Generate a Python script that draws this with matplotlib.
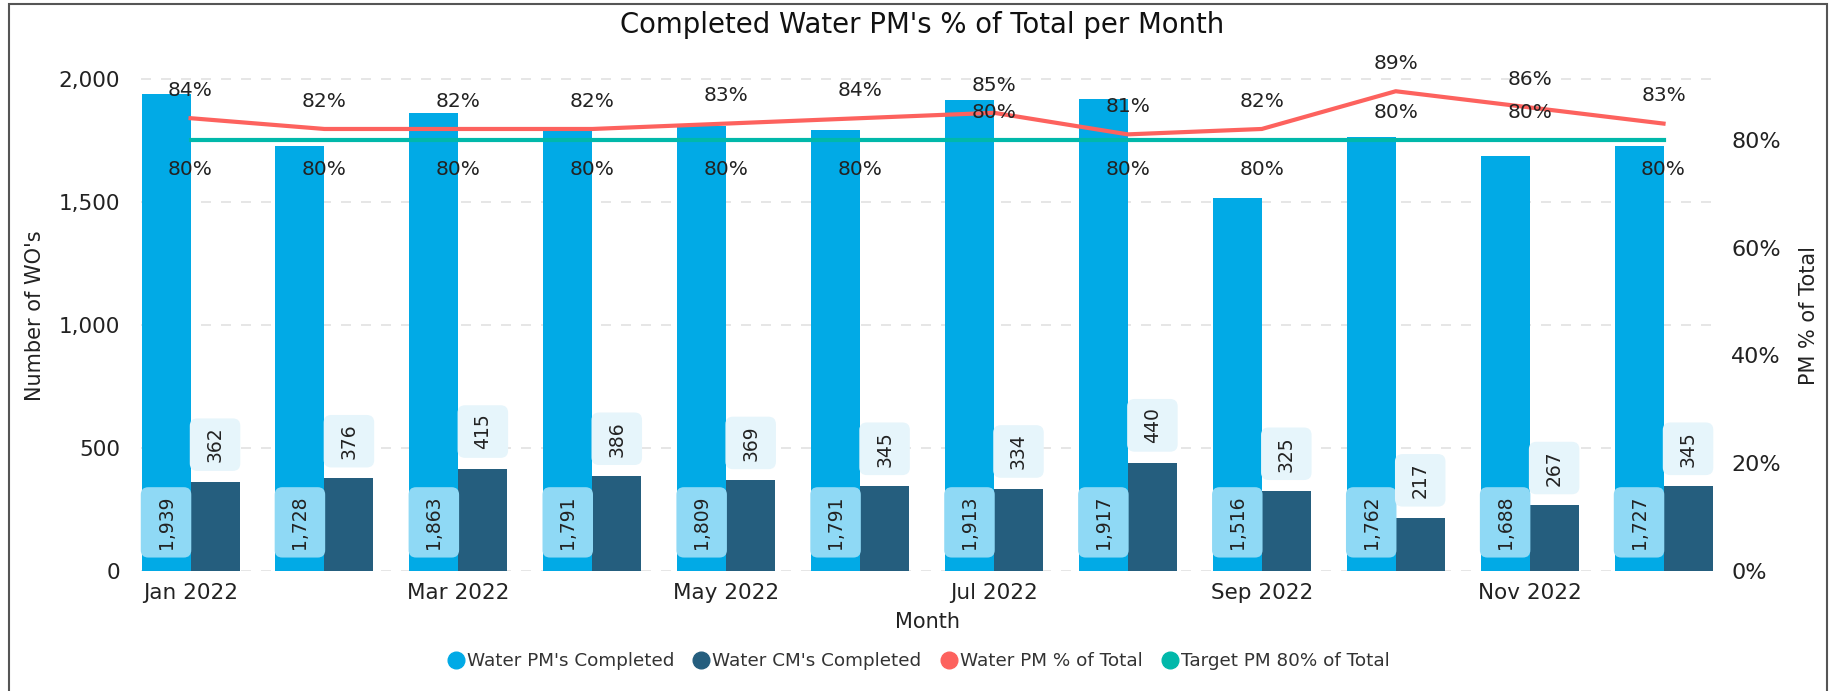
import matplotlib.pyplot as plt
import numpy as np
from matplotlib.lines import Line2D
from matplotlib.patches import Rectangle, BoxStyle
from matplotlib.ticker import FuncFormatter

# -----------------------------
# Data
# -----------------------------
months = ["Jan 2022", "Feb 2022", "Mar 2022", "Apr 2022", "May 2022", "Jun 2022",
          "Jul 2022", "Aug 2022", "Sep 2022", "Oct 2022", "Nov 2022", "Dec 2022"]
pm_completed = [1939, 1728, 1863, 1791, 1809, 1791, 1913, 1917, 1516, 1762, 1688, 1727]
cm_completed = [362, 376, 415, 386, 369, 345, 334, 440, 325, 217, 267, 345]
pm_pct = [84, 82, 82, 82, 83, 84, 85, 81, 82, 89, 86, 83]
target_pct = [80] * 12
target_label_above = [6, 9, 10]  # months where the 80% label sits above the line

# colours
c_pm = "#01AAE6"
c_cm = "#255E7E"
c_line = "#FD625E"
c_target = "#01B8AA"
c_pm_box = "#8FD9F5"
c_cm_box = "#E6F5FB"

plt.rcParams["font.family"] = ["DejaVu Sans"]

_round = BoxStyle.Round(pad=0, rounding_size=0.4)


# label box: less padding along the text, more across it (fills the bar width)
def label_box(x0, y0, width, height, mutation_size):
    pad_along = 0.45 * mutation_size
    pad_across = 0.84 * mutation_size
    return _round(x0 - pad_along, y0 - pad_across, width + 2 * pad_along,
                  height + 2 * pad_across, mutation_size)


fig = plt.figure(figsize=(18.31, 6.91), dpi=100)
ax = fig.add_axes([0.0770, 0.1737, 0.8586, 0.7395])
ax2 = ax.twinx()

x = np.arange(len(months))
w = 0.366

# -----------------------------
# Bars
# -----------------------------
ax.bar(x - w / 2, pm_completed, w, color=c_pm, zorder=2)
ax.bar(x + w / 2, cm_completed, w, color=c_cm, zorder=2)

for xi, v in zip(x, pm_completed):
    ax.annotate(f"{v:,}", (xi - w / 2, 0), xytext=(0, 35), textcoords="offset points",
                ha="center", va="center", rotation=90, fontsize=13.5, color="#222222",
                bbox=dict(boxstyle=label_box, fc=c_pm_box, ec="none"), zorder=5)

for xi, v in zip(x, cm_completed):
    ax.annotate(f"{v:,}", (xi + w / 2, v), xytext=(0, 14), textcoords="offset points",
                ha="center", va="bottom", rotation=90, fontsize=13.5, color="#222222",
                bbox=dict(boxstyle=label_box, fc=c_cm_box, ec="none"), zorder=5)

ax.set_xlim(-0.37, 11.37)
ax.set_ylim(0, 2077)
ax.set_yticks([0, 500, 1000, 1500, 2000])
ax.yaxis.set_major_formatter(FuncFormatter(lambda v, p: f"{int(v):,}"))
ax.grid(axis="y", color="#E2E2E2", linestyle=(0, (6, 6)), linewidth=1.2, zorder=0)
ax.set_axisbelow(True)
ax.set_xticks(x[::2])
ax.set_xticklabels(months[::2])
ax.tick_params(axis="x", length=0, pad=9, labelsize=15.5, colors="#222222")
ax.tick_params(axis="y", length=0, pad=15, labelsize=15.5, colors="#222222")
for s in ax.spines.values():
    s.set_visible(False)

ax.set_ylabel("Number of WO's", fontsize=15, color="#222222")
ax.yaxis.set_label_coords(-0.061, 0.5)
ax.set_xlabel("Month", fontsize=15, color="#222222", labelpad=6)

# -----------------------------
# Lines on the percentage axis
# -----------------------------
pm_frac = np.array(pm_pct) / 100
target_frac = np.array(target_pct) / 100
ax2.plot(x, pm_frac, color=c_line, linewidth=3, zorder=3)
ax2.plot(x, target_frac, color=c_target, linewidth=3, zorder=3)

for xi, v in zip(x, pm_pct):
    ax2.annotate(f"{v}%", (xi, v / 100), xytext=(0, 20), textcoords="offset points",
                 ha="center", va="center", fontsize=14.5, color="#222222")

for i, (xi, v) in enumerate(zip(x, target_pct)):
    dy = 19.5 if i in target_label_above else -21.5
    ax2.annotate(f"{v}%", (xi, v / 100), xytext=(0, dy), textcoords="offset points",
                 ha="center", va="center", fontsize=14.5, color="#222222")

ax2.set_ylim(0, 0.948)
ax2.set_yticks([0, 0.2, 0.4, 0.6, 0.8])
ax2.yaxis.set_major_formatter(FuncFormatter(lambda v, p: f"{v * 100:.0f}%"))
ax2.tick_params(axis="y", length=0, pad=13, labelsize=16, colors="#222222")
for s in ax2.spines.values():
    s.set_visible(False)
ax2.set_ylabel("PM % of Total", fontsize=15, color="#222222")
ax2.yaxis.set_label_coords(1.0545, 0.5)

# -----------------------------
# Title, legend, border
# -----------------------------
fig.text(0.5036, 0.964, "Completed Water PM's % of Total per Month",
         ha="center", va="center", fontsize=19.8, color="#111111")

handles = [
    Line2D([], [], marker="o", linestyle="none", markersize=12, color=c_pm),
    Line2D([], [], marker="o", linestyle="none", markersize=12, color=c_cm),
    Line2D([], [], marker="o", linestyle="none", markersize=12, color=c_line),
    Line2D([], [], marker="o", linestyle="none", markersize=12, color=c_target),
]
labels = ["Water PM's Completed", "Water CM's Completed", "Water PM % of Total",
          "Target PM 80% of Total"]
fig.legend(handles, labels, loc="center", bbox_to_anchor=(0.5015, 0.0434), ncol=4,
           frameon=False, fontsize=13.2, handletextpad=0.1, columnspacing=1.0,
           handlelength=1.0, labelcolor="#333333")

fig.patches.append(Rectangle((0.0049, -0.02), 0.9929, 1.0142, transform=fig.transFigure,
                             fill=False, edgecolor="#555555", linewidth=1.5))

fig.savefig("out.png", dpi=100)
